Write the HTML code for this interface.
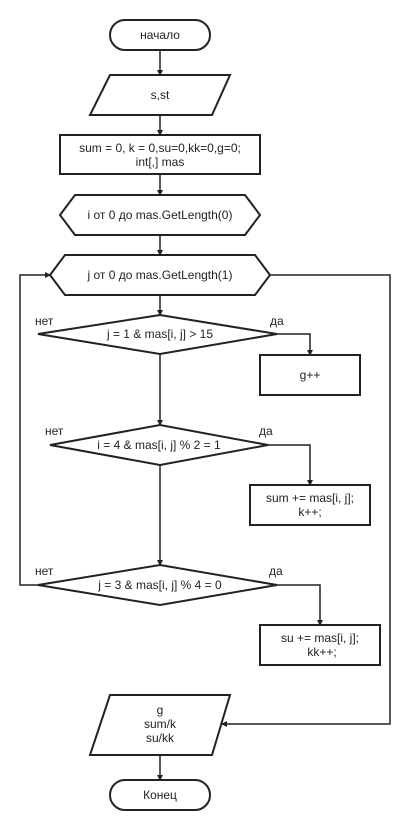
<!DOCTYPE html>
<html><head><meta charset="utf-8"><style>
body{margin:0;background:#fff}
svg text{font-family:"Liberation Sans",Arial,sans-serif;font-size:12px;fill:#222}
</style></head><body>
<svg width="410" height="830" viewBox="0 0 410 830" xmlns="http://www.w3.org/2000/svg">
<defs><marker id="a" markerWidth="6" markerHeight="6" refX="5" refY="3" orient="auto" markerUnits="userSpaceOnUse"><path d="M0,0 L6,3 L0,6 z" fill="#222"/></marker></defs>
<g stroke="#222" stroke-width="1.5" fill="none">
<line x1="160" y1="50" x2="160" y2="75" marker-end="url(#a)"/>
<line x1="160" y1="115" x2="160" y2="135" marker-end="url(#a)"/>
<line x1="160" y1="174" x2="160" y2="195" marker-end="url(#a)"/>
<line x1="160" y1="235" x2="160" y2="255" marker-end="url(#a)"/>
<line x1="160" y1="295" x2="160" y2="315" marker-end="url(#a)"/>
<line x1="160" y1="354" x2="160" y2="425" marker-end="url(#a)"/>
<line x1="160" y1="465" x2="160" y2="565" marker-end="url(#a)"/>
<polyline points="277,334 310,334 310,355" marker-end="url(#a)"/>
<polyline points="268,445 310,445 310,485" marker-end="url(#a)"/>
<polyline points="277,585 320,585 320,625" marker-end="url(#a)"/>
<polyline points="38,585 20,585 20,275 50,275" marker-end="url(#a)"/>
<polyline points="270,275 390,275 390,724 222,724" marker-end="url(#a)"/>
<line x1="160" y1="755" x2="160" y2="780" marker-end="url(#a)"/>
</g>
<g stroke="#222" stroke-width="2" fill="#fff">
<rect x="110" y="20" width="100" height="30" rx="15"/>
<polygon points="110,75 230,75 212,115 90,115"/>
<rect x="60" y="135" width="200" height="39"/>
<polygon points="75,195 245,195 260,215 245,235 75,235 60,215"/>
<polygon points="65,255 255,255 270,275 255,295 65,295 50,275"/>
<polygon points="38,334 160,315 277,334 160,354"/>
<rect x="260" y="355" width="100" height="40"/>
<polygon points="50,445 160,425 268,445 160,465"/>
<rect x="250" y="485" width="120" height="40"/>
<polygon points="38,585 160,565 277,585 160,605"/>
<rect x="260" y="625" width="120" height="40"/>
<polygon points="110,695 230,695 212,755 90,755"/>
<rect x="110" y="780" width="100" height="30" rx="15"/>
</g>
<g text-anchor="middle">
<text x="160" y="39">начало</text>
<text x="160" y="99">s,st</text>
<text x="160" y="152">sum = 0, k = 0,su=0,kk=0,g=0;</text>
<text x="160" y="166">int[,] mas</text>
<text x="160" y="219">i от 0 до mas.GetLength(0)</text>
<text x="160" y="279">j от 0 до mas.GetLength(1)</text>
<text x="160" y="338">j = 1 &amp; mas[i, j] &gt; 15</text>
<text x="310" y="379">g++</text>
<text x="159" y="449">i = 4 &amp; mas[i, j] % 2 = 1</text>
<text x="310" y="502">sum += mas[i, j];</text>
<text x="310" y="516">k++;</text>
<text x="160" y="589">j = 3 &amp; mas[i, j] % 4 = 0</text>
<text x="320" y="642">su += mas[i, j];</text>
<text x="322" y="656">kk++;</text>
<text x="160" y="714">g</text>
<text x="160" y="728">sum/k</text>
<text x="160" y="742">su/kk</text>
<text x="160" y="799">Конец</text>
</g>
<text x="35" y="325">нет</text>
<text x="270" y="325">да</text>
<text x="45" y="435">нет</text>
<text x="259" y="435">да</text>
<text x="35" y="575">нет</text>
<text x="269" y="575">да</text>
</svg>
</body></html>
